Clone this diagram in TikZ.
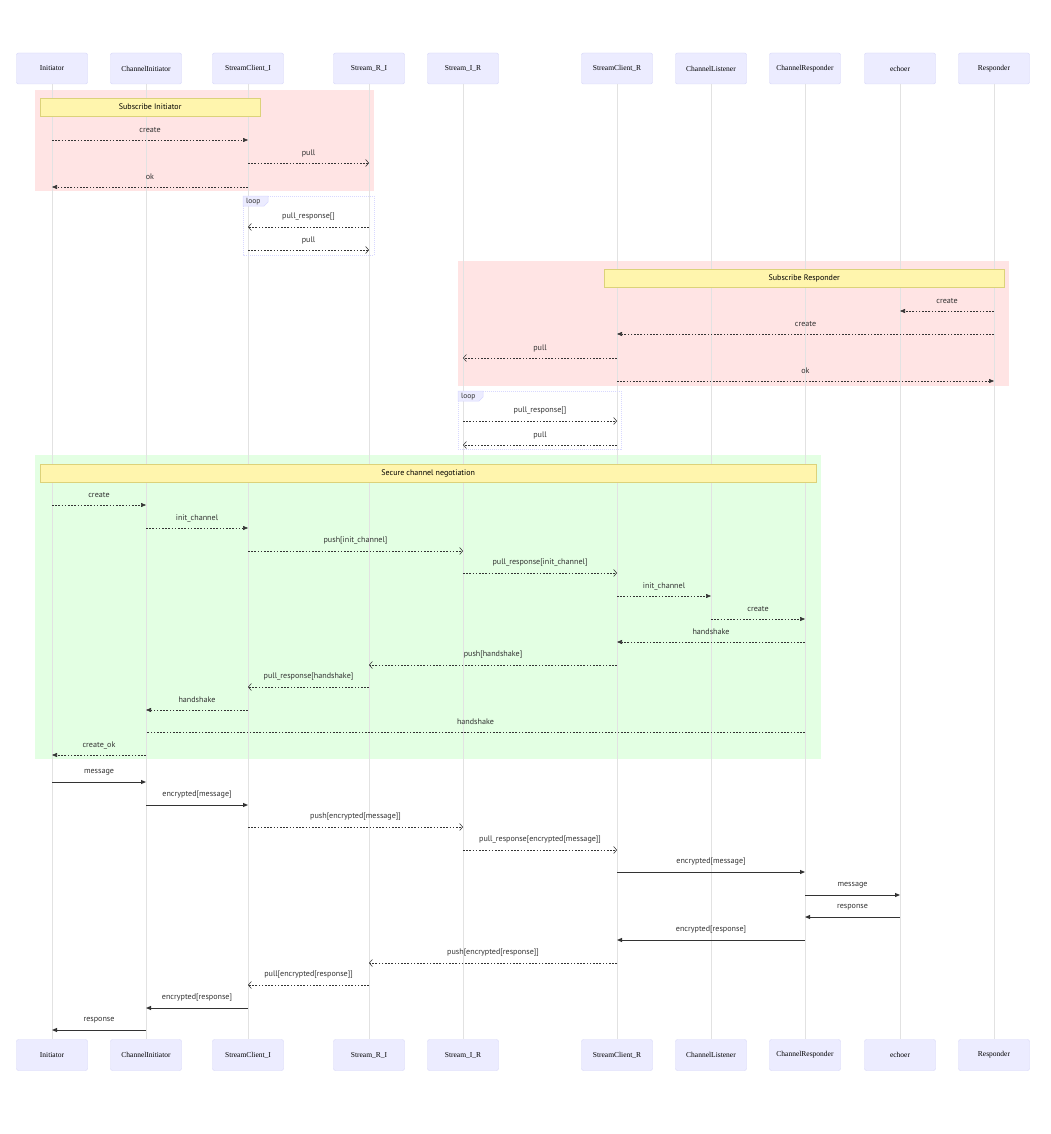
\documentclass[tikz,border=0pt]{standalone}
\usepackage{fontspec}
\setmainfont{Liberation Serif}
\setsansfont{PT Sans}
\usetikzlibrary{arrows.meta}

\definecolor{actorfill}{HTML}{ECECFF}
\definecolor{actorline}{HTML}{D4D4F7}
\definecolor{lifegray}{HTML}{E2E2E2}
\definecolor{notefill}{HTML}{FFF5AD}
\definecolor{noteline}{HTML}{DCD27A}
\definecolor{pinkbg}{HTML}{FFE4E4}
\definecolor{greenbg}{HTML}{E3FFE3}
\definecolor{loopline}{HTML}{D8D8FF}
\definecolor{msgcol}{HTML}{333333}

\tikzset{
  actor/.style={draw=actorline, fill=actorfill, rounded corners=2pt, minimum width=71pt,
    minimum height=31pt, inner sep=0pt, font=\fontsize{7.5}{9}\selectfont},
  lifeline/.style={draw=lifegray, line width=1pt},
  notebox/.style={draw=noteline, fill=notefill, minimum height=18pt, inner sep=0pt,
    anchor=west, font=\sffamily\fontsize{8}{9}\selectfont},
  msglabel/.style={font=\sffamily\fontsize{8.1}{9}\selectfont, text=msgcol, yshift=10pt, inner sep=0pt},
  looptag/.style={font=\sffamily\fontsize{7.5}{9}\selectfont, text=msgcol, inner sep=0pt, anchor=west},
  loopframe/.style={draw=loopline, line width=0.7pt, dash pattern=on 1pt off 1pt},
  msgsync/.style={draw=msgcol, line width=0.9pt, -{Triangle[length=5pt,width=4pt]}},
  msgreply/.style={draw=msgcol, line width=0.55pt, dash pattern=on 1.6pt off 1.6pt, -{Triangle[length=5pt,width=4pt]}},
  msgasync/.style={draw=msgcol, line width=0.55pt, dash pattern=on 1.6pt off 1.6pt, -{Straight Barb[length=3pt,width=7pt]}},
  msgopen/.style={draw=msgcol, line width=0.55pt, dash pattern=on 1.6pt off 1.6pt}
}

% style, label name, from, to, y, text
\newcommand{\msg}[6][msgreply]{\draw[#1] (#3 |- 0,#5) -- node[msglabel] (#2) {#6} (#4 |- 0,#5);}

\begin{document}
\begin{tikzpicture}[x={(1pt,0)}, y={(0,-1pt)}]
\useasboundingbox (0,0) rectangle (1051,1134);

% coloured blocks
\fill[pinkbg] (35,90) rectangle (374,191);
\fill[pinkbg] (458,261) rectangle (1009,386);
\fill[greenbg] (35,455) rectangle (821,759);

% participants
\node[actor] (ini) at (52,68.5) {Initiator};
\node[actor] (chi) at (146,68.5) {ChannelInitiator};
\node[actor] (sci) at (248,68.5) {StreamClient\_I};
\node[actor] (sri) at (369,68.5) {Stream\_R\_I};
\node[actor] (sir) at (463,68.5) {Stream\_I\_R};
\node[actor] (scr) at (617,68.5) {StreamClient\_R};
\node[actor] (chl) at (711,68.5) {ChannelListener};
\node[actor] (chr) at (805,68.5) {ChannelResponder};
\node[actor] (ech) at (900,68.5) {echoer};
\node[actor] (res) at (994,68.5) {Responder};

\node[actor] (inib) at (52,1055) {Initiator};
\node[actor] (chib) at (146,1055) {ChannelInitiator};
\node[actor] (scib) at (248,1055) {StreamClient\_I};
\node[actor] (srib) at (369,1055) {Stream\_R\_I};
\node[actor] (sirb) at (463,1055) {Stream\_I\_R};
\node[actor] (scrb) at (617,1055) {StreamClient\_R};
\node[actor] (chlb) at (711,1055) {ChannelListener};
\node[actor] (chrb) at (805,1055) {ChannelResponder};
\node[actor] (echb) at (900,1055) {echoer};
\node[actor] (resb) at (994,1055) {Responder};

% lifelines
\foreach \p in {ini,chi,sci,sri,sir,scr,chl,chr,ech,res}
  \draw[lifeline] (\p.south) -- (\p b.north);

% notes
\node[notebox, minimum width=220pt] (subini) at (40,107) {Subscribe Initiator};
\node[notebox, minimum width=400pt] (subres) at (604,278) {Subscribe Responder};
\node[notebox, minimum width=776pt] (secure) at (40,473) {Secure channel negotiation};

% loops
\draw[loopframe] (243,196) rectangle (374,255);
\draw[draw=loopline, fill=actorfill, line width=0.5pt] (243,196) -- (268,196) -- (268,202) -- (264,206) -- (243,206) -- cycle;
\node[looptag] (loopa) at (246,201.5) {loop};
\draw[loopframe] (458,391) rectangle (621,449);
\draw[draw=loopline, fill=actorfill, line width=0.5pt] (458,391) -- (483,391) -- (483,397) -- (479,401) -- (458,401) -- cycle;
\node[looptag] (loopb) at (461,396.5) {loop};

% subscribe initiator
\msg{m1}{ini}{sci}{140}{create}
\msg[msgasync]{m2}{sci}{sri}{163}{pull}
\msg{m3}{sci}{ini}{187}{ok}
\msg[msgasync]{m4}{sri}{sci}{227}{pull\_response[]}
\msg[msgasync]{m5}{sci}{sri}{250}{pull}

% subscribe responder
\msg{m6}{res}{ech}{311}{create}
\msg{m7}{res}{scr}{334}{create}
\msg[msgasync]{m8}{scr}{sir}{358}{pull}
\msg{m9}{scr}{res}{381}{ok}
\msg[msgasync]{m10}{sir}{scr}{421}{pull\_response[]}
\msg[msgasync]{m11}{scr}{sir}{445}{pull}

% secure channel negotiation
\msg{m12}{ini}{chi}{505}{create}
\msg{m13}{chi}{sci}{528}{init\_channel}
\msg[msgasync]{m14}{sci}{sir}{551}{push[init\_channel]}
\msg[msgasync]{m15}{sir}{scr}{573}{pull\_response[init\_channel]}
\msg{m16}{scr}{chl}{596}{init\_channel}
\msg{m17}{chl}{chr}{619}{create}
\msg{m18}{chr}{scr}{642}{handshake}
\msg[msgasync]{m19}{scr}{sri}{665}{push[handshake]}
\msg[msgasync]{m20}{sri}{sci}{687}{pull\_response[handshake]}
\msg{m21}{sci}{chi}{710}{handshake}
\msg[msgopen]{m22}{chr}{chi}{732}{handshake}
\msg{m23}{chi}{ini}{755}{create\_ok}

% message round trip
\msg[msgsync]{m24}{ini}{chi}{782}{message}
\msg[msgsync]{m25}{chi}{sci}{805}{encrypted[message]}
\msg[msgasync]{m26}{sci}{sir}{827}{push[encrypted[message]]}
\msg[msgasync]{m27}{sir}{scr}{850}{pull\_response[encrypted[message]]}
\msg[msgsync]{m28}{scr}{chr}{872}{encrypted[message]}
\msg[msgsync]{m29}{chr}{ech}{895}{message}
\msg[msgsync]{m30}{ech}{chr}{917}{response}
\msg[msgsync]{m31}{chr}{scr}{940}{encrypted[response]}
\msg[msgasync]{m32}{scr}{sri}{963}{push[encrypted[response]]}
\msg[msgasync]{m33}{sri}{sci}{985}{pull[encrypted[response]]}
\msg[msgsync]{m34}{sci}{chi}{1008}{encrypted[response]}
\msg[msgsync]{m35}{chi}{ini}{1030}{response}
\end{tikzpicture}
\end{document}
